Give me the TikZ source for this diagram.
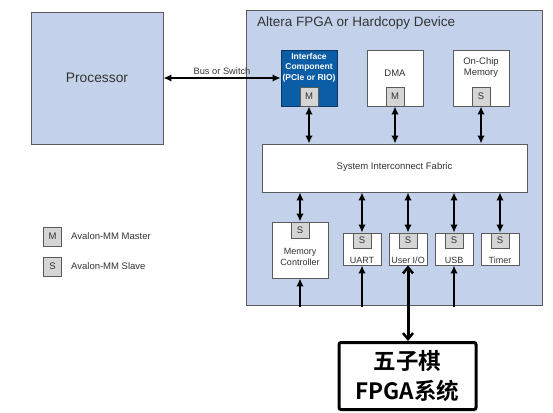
\documentclass[tikz,border=0pt]{standalone}
\usepackage{fontspec}
\setmainfont{Liberation Sans}
\newfontfamily\cjk{Noto Sans CJK SC}[BoldFont={Noto Sans CJK SC Bold}]
\usetikzlibrary{arrows.meta,positioning}

\definecolor{boxblue}{HTML}{C3D2EA}
\definecolor{ifblue}{HTML}{0B5DA6}
\definecolor{linegray}{HTML}{5A5A5A}
\definecolor{portgray}{HTML}{D5D5D5}
\definecolor{txtgray}{HTML}{333333}

\tikzset{
	blk/.style={draw=linegray, line width=0.9pt, fill=white, inner sep=0pt},
	port/.style={draw=linegray, line width=0.9pt, fill=portgray, inner sep=0pt,
		minimum width=18, minimum height=19, text=txtgray, font=\fontsize{9.5}{11}\selectfont},
	lbl/.style={inner sep=0pt, align=center, text=txtgray, font=\fontsize{9.5}{11}\selectfont},
	link/.style={{Latex[length=8pt,width=7.5pt]}-{Latex[length=8pt,width=7.5pt]}, line width=1.7pt},
	feed/.style={-{Latex[length=8pt,width=7.5pt]}, line width=1.7pt},
}

\begin{document}
\begin{tikzpicture}[x=1pt, y=-1pt]
	\useasboundingbox (0,0) rectangle (553,412);

	% host side
	\node[blk, fill=boxblue, minimum width=132, minimum height=132, text=txtgray,
		font=\fontsize{13.8}{15}\selectfont] (proc) at (97,78) {Processor};

	% device
	\node[blk, fill=boxblue, minimum width=296, minimum height=295] (fpga) at (394,157.5) {};
	\node[lbl, anchor=west, font=\fontsize{13.5}{15}\selectfont] (title) at (257,23) {Altera FPGA or Hardcopy Device};

	% upper row
	\node[blk, fill=ifblue, draw=ifblue!60!black, minimum width=56, minimum height=56] (iface) at (309,78) {};
	\node[lbl, text=white, font=\bfseries\fontsize{8.5}{10.5}\selectfont] (iface-t) at (309,67.5) {Interface\\Component\\(PCIe or RIO)};
	\node[port, anchor=south] (iface-m) at (iface.south) {M};

	\node[blk, minimum width=56, minimum height=56] (dma) at (395,78) {};
	\node[lbl] (dma-t) at (395,73) {DMA};
	\node[port, anchor=south] (dma-m) at (dma.south) {M};

	\node[blk, minimum width=56, minimum height=56] (ocm) at (481,78) {};
	\node[lbl] (ocm-t) at (481,67.5) {On-Chip\\Memory};
	\node[port, anchor=south] (ocm-s) at (ocm.south) {S};

	\node[blk, minimum width=265, minimum height=48] (fabric) at (394.5,168) {};
	\node[lbl] (fabric-t) at (394.5,167) {System Interconnect Fabric};

	\draw[link] (proc.east) -- (iface.west) node[lbl, midway, above=3pt, font=\fontsize{9.3}{10}\selectfont] (bus) {Bus or Switch};
	\foreach \pname in {iface-m,dma-m,ocm-s}
		\draw[link] (\pname.south) -- (\pname.south |- fabric.north);

	% lower row
	\coordinate (bot) at (0,307);
	\node[blk, minimum width=56, minimum height=56] (mc) at (300,250) {};
	\node[port, anchor=north, minimum height=16] (mc-s) at (mc.north) {S};
	\node[lbl, font=\fontsize{9}{11}\selectfont] (mc-t) at (300,256.5) {Memory\\Controller};
	\draw[link] (fabric.south -| mc-s.north) -- (mc-s.north);

	\foreach \pname/\px/\ptext in {uart/362/UART, uio/408/{User I/O}, usb/454/USB, tmr/500/Timer}{
		\node[blk, minimum width=38, minimum height=32] (\pname) at (\px,249) {};
		\node[port, anchor=north, minimum height=15] (\pname-s) at (\pname.north) {S};
		\node[lbl, font=\fontsize{9}{11}\selectfont] (\pname-t) at (\px,260) {\ptext};
		\draw[link] (fabric.south -| \pname-s.north) -- (\pname-s.north);
	}
	\foreach \pname in {mc,uart,usb}
		\draw[feed] (\pname.south |- bot) -- (\pname.south);

	% legend
	\node[port, minimum height=19] (key-m) at (52.5,236.5) {M};
	\node[lbl, anchor=west] (key-mt) at (71,236) {Avalon-MM Master};
	\node[port, minimum height=19] (key-s) at (52.5,266.5) {S};
	\node[lbl, anchor=west] (key-st) at (71,266.5) {Avalon-MM Slave};

	% game board
	\node[draw, line width=3pt, rounded corners=2pt, fill=white, minimum width=137, minimum height=67,
		inner sep=0pt, align=center, font=\cjk\bfseries\fontsize{22.5}{30}\selectfont] (game) at (407.5,376) {五子棋\\FPGA系统};
	\draw[{Straight Barb[length=6pt,width=10pt,line width=2.5pt]}-{Straight Barb[length=6pt,width=10pt,line width=2.5pt]}, line width=3pt]
		(game.north -| uio.south) -- (uio.south);
\end{tikzpicture}
\end{document}
